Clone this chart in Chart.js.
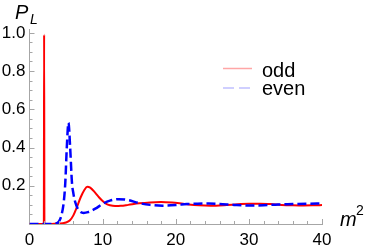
<!DOCTYPE html>
<html>
<head>
<meta charset="utf-8">
<script src="https://cdn.jsdelivr.net/npm/chart.js@4"></script>
<style>
  html, body { margin: 0; padding: 0; background: #fff; }
  #wrap { width: 366px; height: 247px; }
</style>
</head>
<body>
<div id="wrap"><canvas id="c" width="366" height="247"></canvas></div>
<script>
// odd (red, solid)
const oddM2 = [0, 1.96, 2.0, 2.04, 3, 4, 4.5, 5, 5.5, 6, 6.5, 7, 7.5, 7.9, 8.3, 9, 9.5, 10, 10.5, 11, 11.7, 12.5, 13.5, 15, 16.5, 18, 19.5, 21, 22.5, 24, 25.5, 27, 28.5, 30, 31.5, 33, 34.5, 36, 37.5, 39, 40];
const oddP = [0, 0, 0.99, 0, 0, 0.002, 0.004, 0.008, 0.018, 0.045, 0.09, 0.14, 0.178, 0.195, 0.19, 0.163, 0.14, 0.12, 0.105, 0.098, 0.094, 0.095, 0.1, 0.108, 0.113, 0.115, 0.112, 0.106, 0.1, 0.097, 0.096, 0.099, 0.103, 0.106, 0.106, 0.104, 0.1, 0.098, 0.097, 0.098, 0.099];

// even (blue, dashed)
const evenM2 = [0, 3, 3.5, 4, 4.4, 4.7, 4.9, 5.1, 5.33, 5.56, 5.8, 6.0, 6.25, 6.6, 6.9, 7.4, 8, 9, 10, 11, 12.2, 13.5, 14.9, 16.5, 18.2, 20, 21.5, 23, 24.5, 26, 28, 30, 32, 34, 36, 38, 40];
const evenP = [0, 0, 0.002, 0.012, 0.05, 0.12, 0.22, 0.4, 0.53, 0.4, 0.22, 0.16, 0.115, 0.08, 0.065, 0.058, 0.062, 0.08, 0.105, 0.122, 0.13, 0.125, 0.11, 0.1, 0.096, 0.099, 0.104, 0.106, 0.107, 0.105, 0.1, 0.097, 0.098, 0.102, 0.104, 0.106, 0.107];

const xTicks = [0, 10, 20, 30, 40];
const yTicks = [0.2, 0.4, 0.6, 0.8, 1.0];
const seriesNames = ['odd', 'even'];

const FONT = '"Liberation Sans", Arial, sans-serif';
const AXIS = '#a6a6a6';

const pts = (xs, ys) => xs.map((x, i) => ({ x: x, y: ys[i] }));

// inward Mathematica-style ticks, legend and axis titles
const decor = {
  id: 'decor',
  afterDraw(chart) {
    const ctx = chart.ctx;
    const xs = chart.scales.x, ys = chart.scales.y;
    const ca = chart.chartArea;
    ctx.save();
    ctx.strokeStyle = AXIS;
    ctx.lineWidth = 1;
    ctx.beginPath();
    for (let v = 2; v <= 40; v += 2) {
      const px = Math.round(xs.getPixelForValue(v)) + 0.5;
      const len = xTicks.includes(v) ? 5 : 3;
      ctx.moveTo(px, ca.bottom);
      ctx.lineTo(px, ca.bottom - len);
    }
    for (let k = 1; k <= 20; k++) {
      const v = k * 0.05;
      const py = Math.round(ys.getPixelForValue(v)) + 0.5;
      const len = k % 4 === 0 ? 5 : 3;
      ctx.moveTo(ca.left, py);
      ctx.lineTo(ca.left + len, py);
    }
    ctx.stroke();

    // legend
    const ds = chart.data.datasets;
    ctx.lineWidth = 1.5;
    ctx.strokeStyle = 'rgba(255,0,0,0.35)';
    ctx.setLineDash([]);
    ctx.beginPath(); ctx.moveTo(223, 68.5); ctx.lineTo(252, 68.5); ctx.stroke();
    ctx.strokeStyle = 'rgba(0,0,255,0.25)';
    ctx.setLineDash([11, 5]);
    ctx.beginPath(); ctx.moveTo(223, 88); ctx.lineTo(252, 88); ctx.stroke();
    ctx.setLineDash([]);
    ctx.fillStyle = '#000';
    ctx.textBaseline = 'alphabetic';
    ctx.textAlign = 'left';
    ctx.font = '20px ' + FONT;
    ctx.fillText(ds[0].label, 262, 76.5);
    ctx.fillText(ds[1].label, 262, 95);

    // axis titles
    ctx.font = 'italic 20px ' + FONT;
    ctx.fillText('P', 15, 18.5);
    ctx.fillText('m', 340, 226);
    ctx.font = 'italic 14px ' + FONT;
    ctx.fillText('L', 30, 23.5);
    ctx.font = '14px ' + FONT;
    ctx.fillText('2', 356, 215);
    ctx.restore();
  }
};

new Chart(document.getElementById('c'), {
  type: 'line',
  data: {
    datasets: [
      {
        label: seriesNames[0],
        data: pts(oddM2, oddP),
        borderColor: '#ff0000',
        borderWidth: 2,
        pointRadius: 0,
        cubicInterpolationMode: 'monotone',
        order: 1
      },
      {
        label: seriesNames[1],
        data: pts(evenM2, evenP),
        borderColor: '#0000ff',
        borderWidth: 2.5,
        borderDash: [9, 4],
        pointRadius: 0,
        cubicInterpolationMode: 'monotone',
        order: 0
      }
    ]
  },
  options: {
    responsive: false,
    animation: false,
    devicePixelRatio: 1,
    layout: { padding: { top: 29, right: 44, left: 0, bottom: 0 } },
    plugins: { legend: { display: false }, tooltip: { enabled: false } },
    scales: {
      x: {
        type: 'linear',
        min: 0,
        max: 40,
        afterFit: s => { s.height = 23; },
        afterBuildTicks: s => { s.ticks = xTicks.map(v => ({ value: v })); },
        grid: { display: false, drawTicks: false },
        border: { display: true, color: AXIS, width: 1 },
        ticks: {
          autoSkip: false,
          maxRotation: 0,
          padding: 6,
          color: '#000',
          font: { family: FONT, size: 17 },
          callback: v => String(v)
        }
      },
      y: {
        type: 'linear',
        min: 0,
        max: 1.02,
        afterFit: s => { s.width = 29.5; },
        afterBuildTicks: s => { s.ticks = yTicks.map(v => ({ value: v })); },
        grid: { display: false, drawTicks: false },
        border: { display: true, color: AXIS, width: 1 },
        ticks: {
          autoSkip: false,
          padding: 4,
          color: '#000',
          font: { family: FONT, size: 17 },
          callback: v => v.toFixed(1)
        }
      }
    }
  },
  plugins: [decor]
});
</script>
</body>
</html>
